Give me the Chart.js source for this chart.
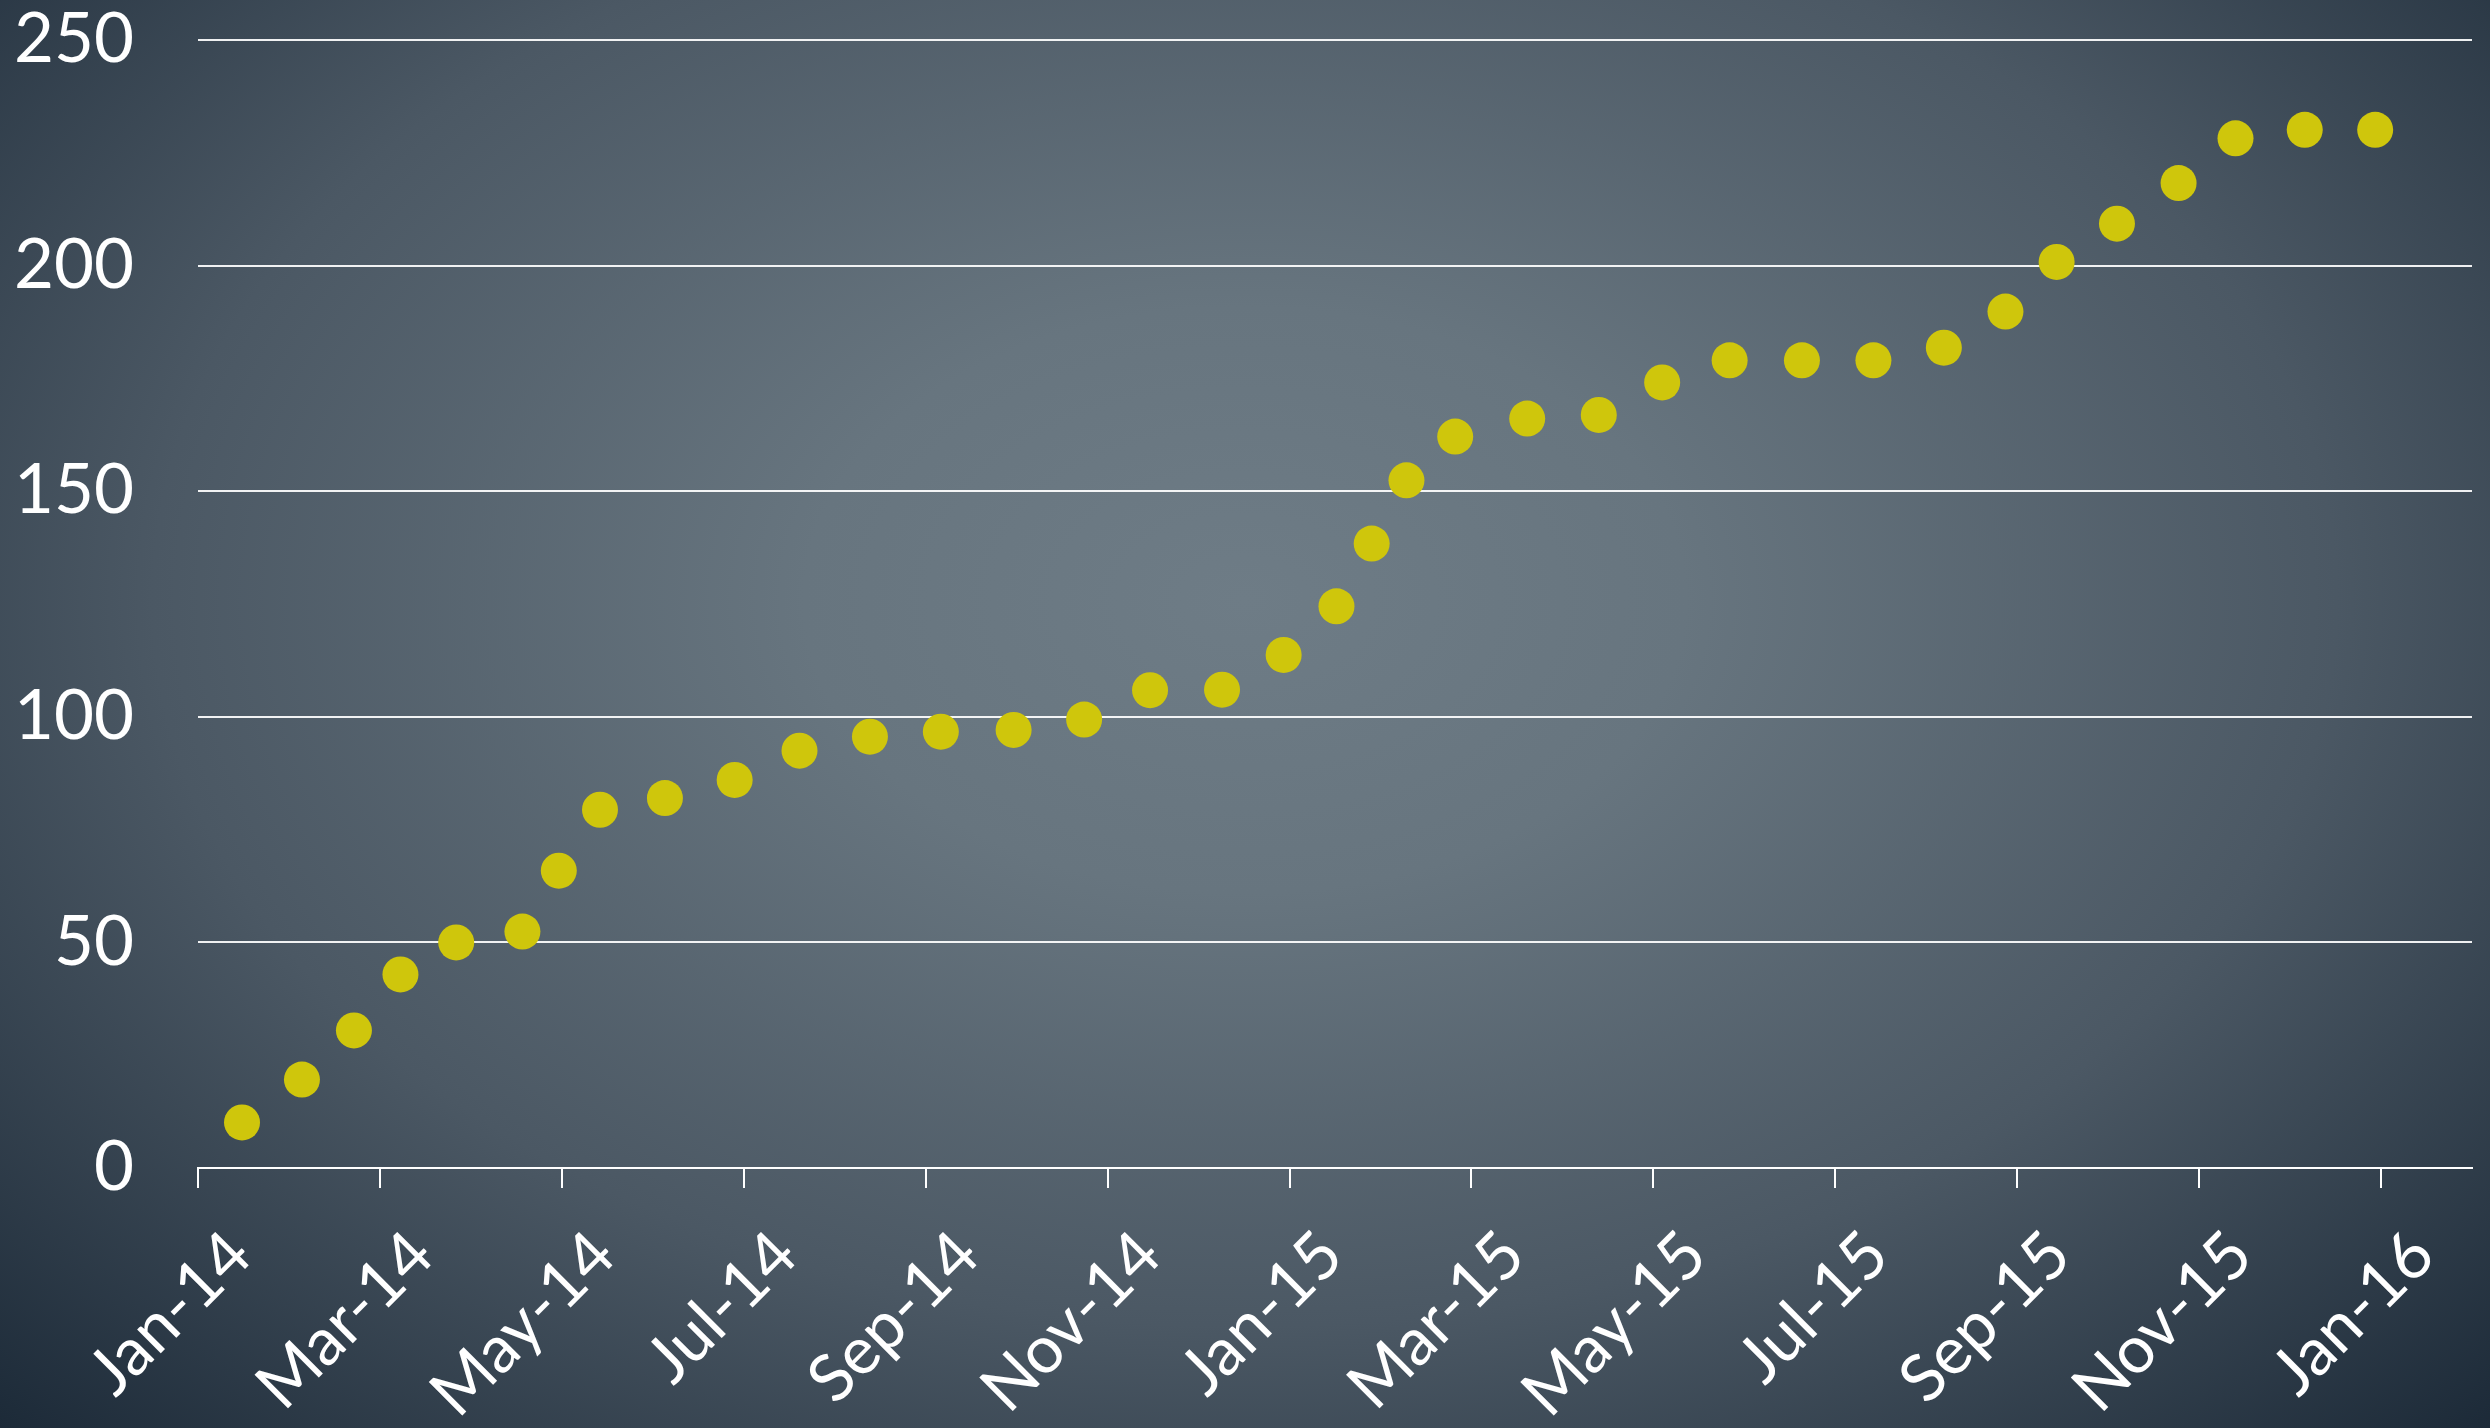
<!DOCTYPE html>
<html>
<head>
<meta charset="utf-8">
<script src="https://cdn.jsdelivr.net/npm/chart.js@4.4.1/dist/chart.umd.min.js"></script>
<style>
  html, body {
    margin: 0;
    padding: 0;
    width: 2490px;
    height: 1428px;
    overflow: hidden;
  }
  body {
    background: radial-gradient(ellipse farthest-corner at 50% 42%, #6e7c86 0%, #67757f 25%, #4b5864 62%, #1c2a38 100%);
  }
  .wrap {
    position: relative;
    width: 2490px;
    height: 1428px;
  }
</style>
</head>
<body>
<div class="wrap">
  <canvas id="grafico"></canvas>
</div>
<script>
// Date di rilevazione e valori cumulativi
const dates = [
  '2014-01-16', '2014-02-05', '2014-02-21', '2014-03-08', '2014-03-27', '2014-04-18',
  '2014-04-30', '2014-05-14', '2014-06-05', '2014-06-28', '2014-07-20', '2014-08-13',
  '2014-09-06', '2014-09-30', '2014-10-24', '2014-11-15', '2014-12-09', '2014-12-30',
  '2015-01-17', '2015-01-29', '2015-02-09', '2015-02-24', '2015-03-20', '2015-04-13',
  '2015-05-04', '2015-05-27', '2015-06-20', '2015-07-14', '2015-08-07', '2015-08-28',
  '2015-09-14', '2015-10-04', '2015-10-25', '2015-11-13', '2015-12-06', '2015-12-30'
];
const values = [
  10.1, 19.6, 30.5, 42.9, 50.0, 52.4,
  65.9, 79.4, 82.0, 86.0, 92.5, 95.6,
  96.7, 97.1, 99.4, 105.9, 106.0, 113.7,
  124.5, 138.4, 152.4, 162.1, 166.1, 166.9,
  174.1, 179.0, 179.0, 179.0, 181.8, 189.8,
  200.8, 209.3, 218.3, 228.2, 230.1, 230.1
];
const monthNames = ['Jan', 'Feb', 'Mar', 'Apr', 'May', 'Jun', 'Jul', 'Aug', 'Sep', 'Oct', 'Nov', 'Dec'];
const yTicks = [0, 50, 100, 150, 200, 250];

// mesi trascorsi da gennaio 2014 (con frazione del giorno)
function toMonths(str) {
  const [y, m, d] = str.split('-').map(Number);
  const daysInMonth = new Date(y, m, 0).getDate();
  return (y - 2014) * 12 + (m - 1) + (d - 1) / daysInMonth;
}

function monthLabel(value) {
  const year = 14 + Math.floor(value / 12);
  return monthNames[value % 12] + '-' + year;
}

const points = dates.map((d, i) => ({ x: toMonths(d), y: values[i] }));

const fontFamily = 'Lato, "Open Sans", sans-serif';

new Chart(document.getElementById('grafico'), {
  type: 'scatter',
  data: {
    datasets: [{
      data: points,
      backgroundColor: '#cfc60c',
      borderWidth: 0,
      pointRadius: 18,
      pointHoverRadius: 18
    }]
  },
  options: {
    responsive: true,
    maintainAspectRatio: false,
    animation: false,
    layout: {
      padding: { top: 40, right: 18, left: 0, bottom: 0 }
    },
    plugins: {
      legend: { display: false },
      tooltip: { enabled: false }
    },
    scales: {
      x: {
        type: 'linear',
        min: 0,
        max: 25,
        grid: {
          drawOnChartArea: false,
          drawTicks: true,
          tickLength: 20,
          color: '#ffffff',
          lineWidth: 2
        },
        border: { display: true, color: '#ffffff', width: 2 },
        ticks: {
          stepSize: 2,
          includeBounds: false,
          autoSkip: false,
          maxRotation: 45,
          minRotation: 45,
          labelOffset: 42,
          padding: 28,
          color: '#ffffff',
          font: { family: fontFamily, size: 66 },
          callback: (value) => monthLabel(value)
        },
        afterFit: (scale) => {
          scale.height = 260;
          scale.paddingLeft = 0;
          scale.paddingRight = 0;
        }
      },
      y: {
        min: 0,
        max: 250,
        afterBuildTicks: (scale) => {
          scale.ticks = yTicks.map(v => ({ value: v }));
        },
        grid: {
          drawTicks: false,
          color: 'rgba(255, 255, 255, 0.92)',
          lineWidth: 2
        },
        border: { display: false },
        ticks: {
          padding: 64,
          color: '#ffffff',
          font: { family: fontFamily, size: 69 }
        },
        afterFit: (scale) => {
          scale.width = 198;
          scale.paddingTop = 0;
          scale.paddingBottom = 0;
        }
      }
    }
  }
});
</script>
</body>
</html>
